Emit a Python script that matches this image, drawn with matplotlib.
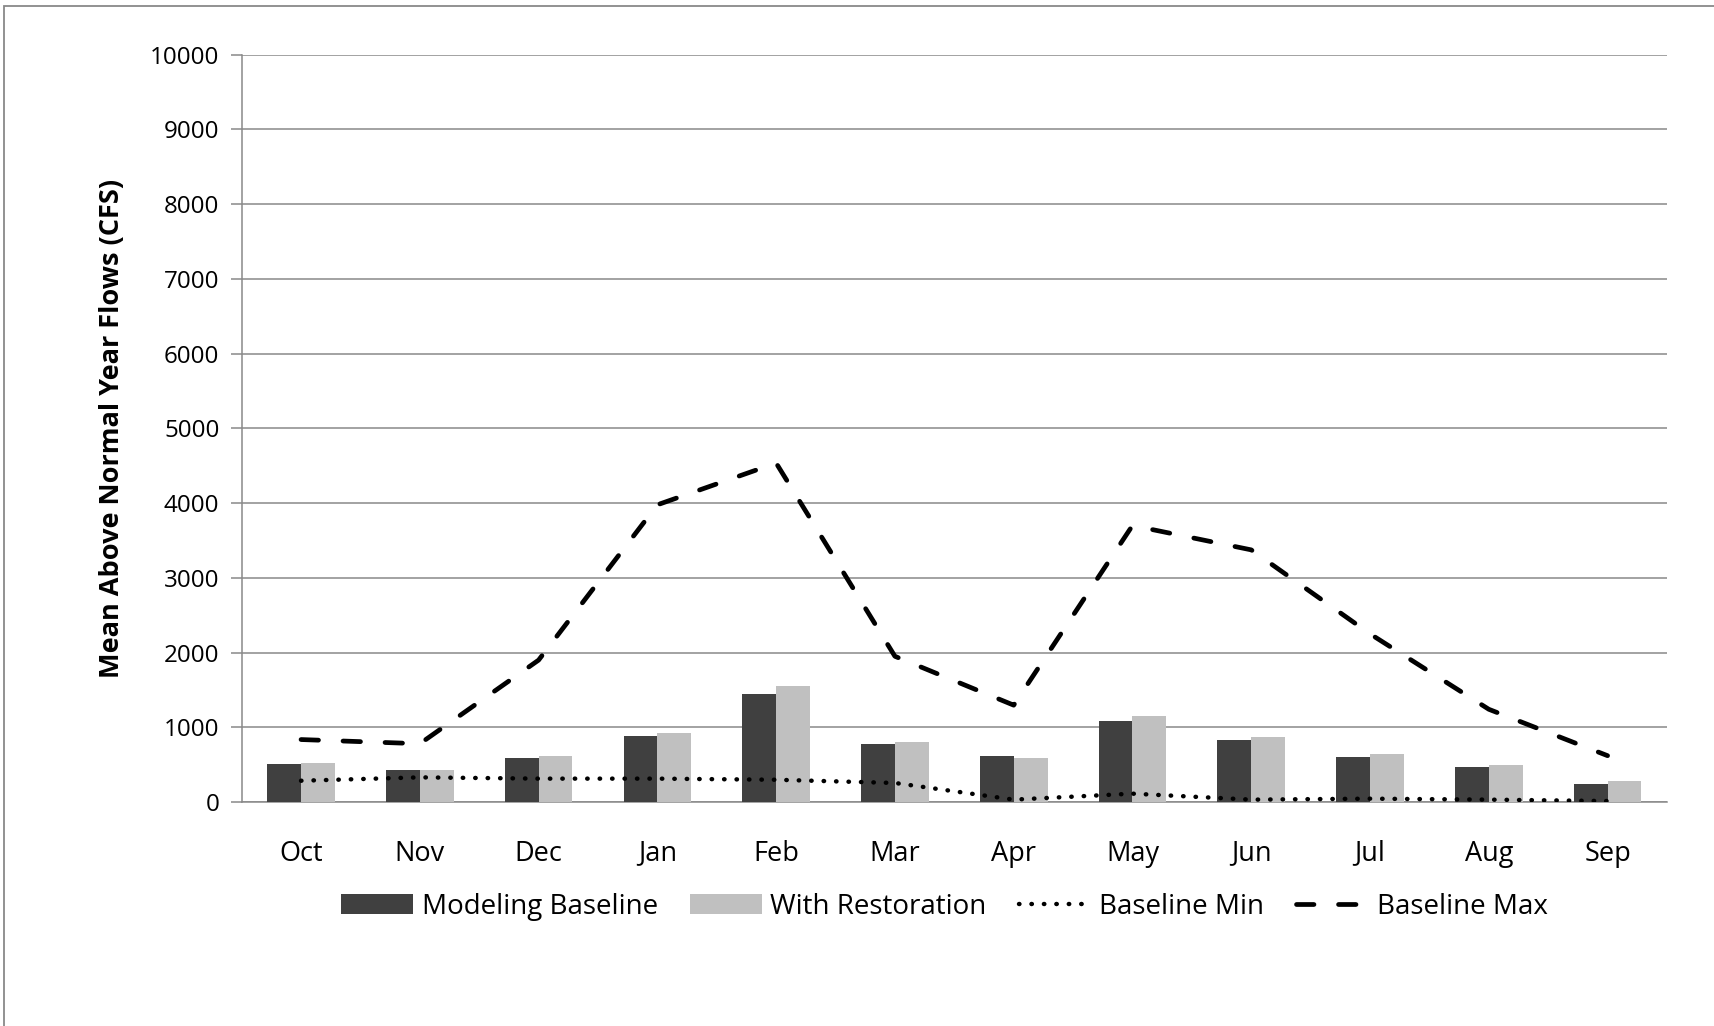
import numpy as np
import matplotlib
matplotlib.use("Agg")
import matplotlib.pyplot as plt
from matplotlib.patches import Rectangle

plt.rcParams['font.family'] = ['Open Sans', 'DejaVu Sans']

# data
months = ["Oct", "Nov", "Dec", "Jan", "Feb", "Mar", "Apr", "May", "Jun", "Jul", "Aug", "Sep"]
modeling_baseline = [505, 434, 595, 885, 1448, 778, 617, 1082, 827, 603, 469, 246]
with_restoration = [519, 425, 613, 925, 1551, 800, 595, 1145, 867, 643, 501, 277]
baseline_min = [285, 330, 313, 313, 298, 255, 32, 112, 32, 45, 32, 13]
baseline_max = [836, 780, 1899, 3977, 4536, 1950, 1296, 3700, 3374, 2250, 1241, 620]
y_ticks = list(range(0, 10001, 1000))

GRID = "#898989"
DARK = "#404040"
LIGHT = "#C0C0C0"

fig = plt.figure(figsize=(17.15, 10.26), dpi=100)
ax = fig.add_axes([0.1409, 0.2183, 0.9720 - 0.1409, 0.9467 - 0.2183])

x = np.arange(len(months))
w = 0.285
b1 = ax.bar(x - w / 2, modeling_baseline, width=w, color=DARK, label="Modeling Baseline", zorder=3)
b2 = ax.bar(x + w / 2, with_restoration, width=w, color=LIGHT, label="With Restoration", zorder=3)

l1, = ax.plot(x, baseline_min, color="black", lw=3.2, dashes=(0.1, 2.7),
              dash_capstyle="round", label="Baseline Min", zorder=4)
l2, = ax.plot(x, baseline_max, color="black", lw=3.4, dashes=(3.7, 5.2),
              dash_capstyle="round", label="Baseline Max", zorder=4)

ax.set_xlim(-0.5, len(months) - 0.5)
ax.set_ylim(0, 10000)
ax.set_yticks(y_ticks)
ax.set_yticklabels([str(v) for v in y_ticks], fontsize=17.4)
ax.set_xticks(x)
ax.set_xticklabels(months, fontsize=19.5)
ax.tick_params(axis="x", length=0, pad=27)
ax.tick_params(axis="y", length=8, width=1.1, color=GRID, pad=8)

ax.yaxis.grid(True, color=GRID, lw=1.1, zorder=0)
ax.set_axisbelow(True)
for side in ["top", "right"]:
    ax.spines[side].set_visible(False)
for side in ["left", "bottom"]:
    ax.spines[side].set_color(GRID)
    ax.spines[side].set_linewidth(1.1)

ax.set_ylabel("Mean Above Normal Year Flows (CFS)", fontsize=19.5, fontweight="bold", labelpad=18)

ax.legend([b1, b2, l1, l2], ["Modeling Baseline", "With Restoration", "Baseline Min", "Baseline Max"],
          loc="center", bbox_to_anchor=(0.493, -0.14), ncol=4, frameon=False,
          fontsize=20, handlelength=2.6, handleheight=0.7, handletextpad=0.3,
          columnspacing=1.15)

# chart-area border (only left/top edges visible in the reference)
fig.add_artist(Rectangle((4 / 1715, -0.1), 1.2, 1.1 - 6 / 1026, transform=fig.transFigure,
                         fill=False, edgecolor=GRID, lw=1.3, clip_on=False))

fig.savefig("out.png", dpi=100)
